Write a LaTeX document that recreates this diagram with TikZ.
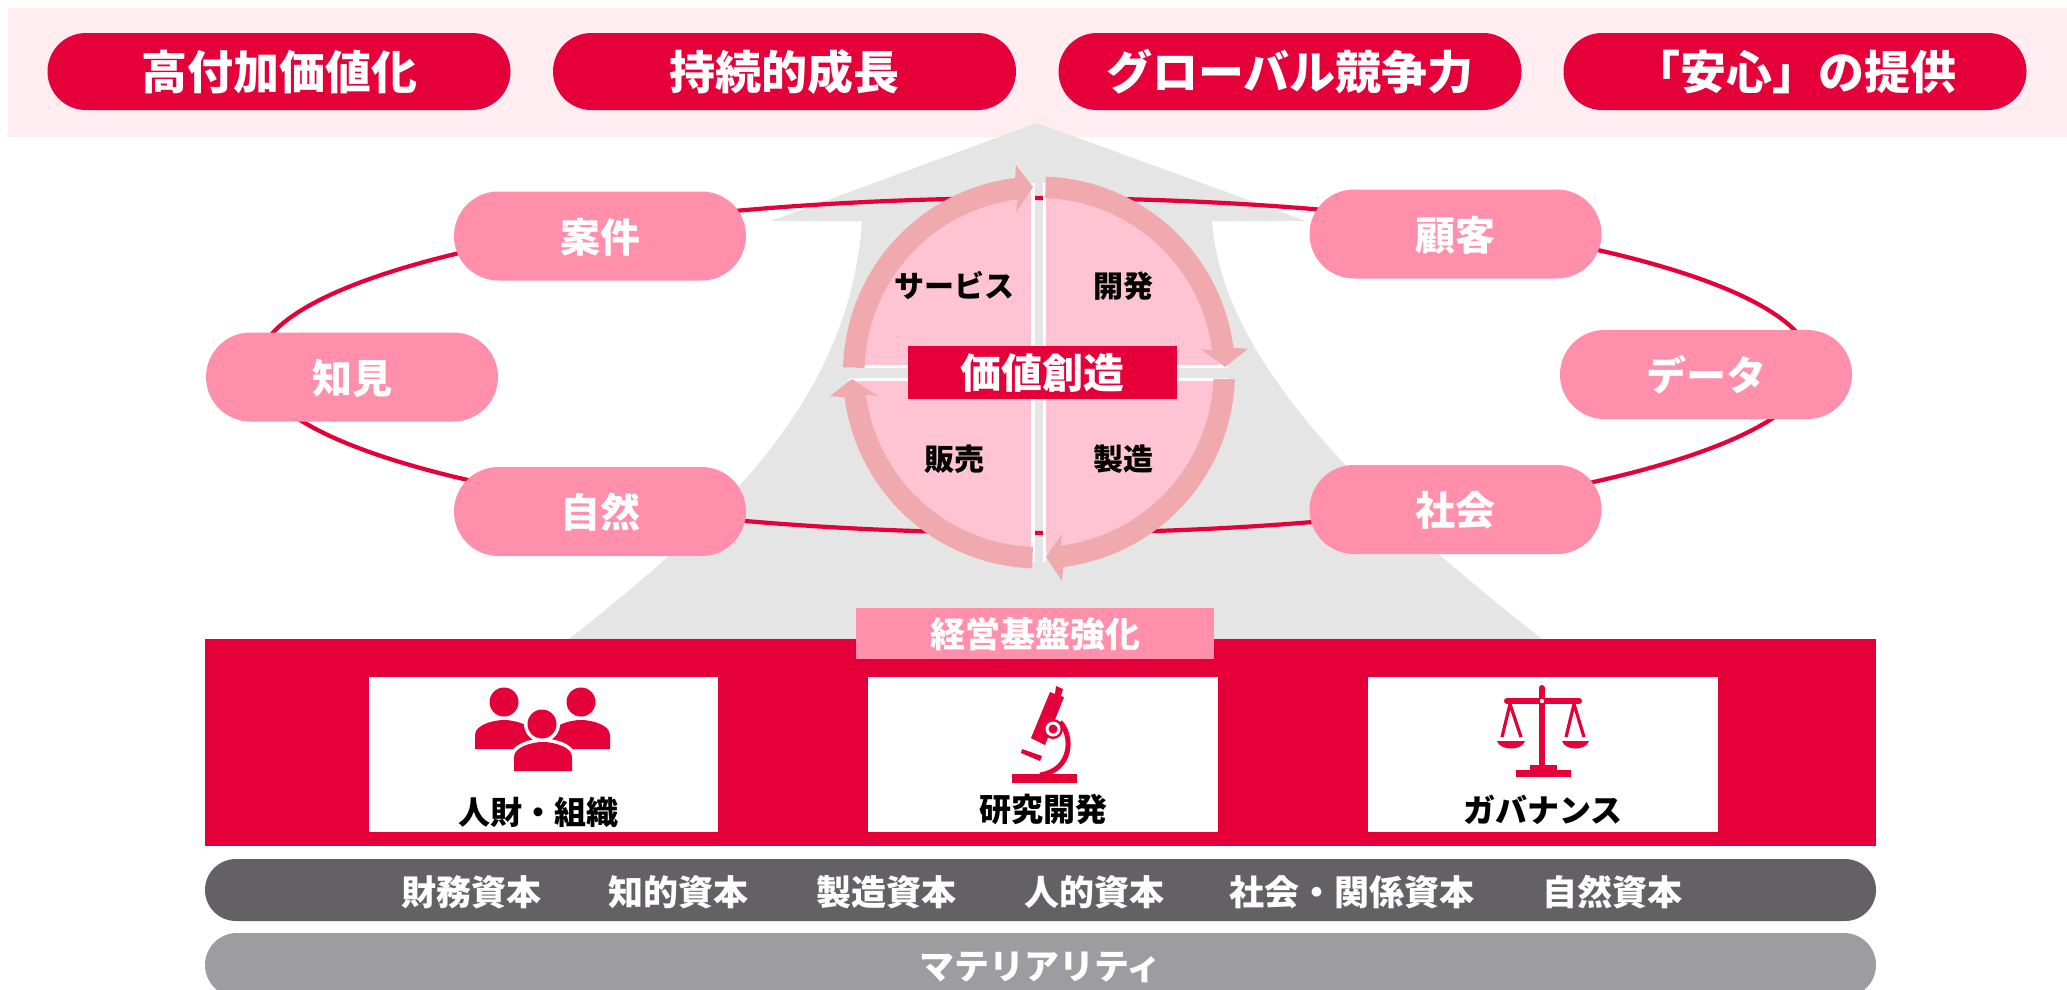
\documentclass[tikz,border=0pt]{standalone}
\usepackage{fontspec}
\usetikzlibrary{shapes.misc}
\setmainfont{Noto Sans CJK JP}
\definecolor{brandred}{HTML}{E60039}
\definecolor{bandpink}{HTML}{FFEDF2}
\definecolor{pillpink}{HTML}{FF8FAB}
\definecolor{quadpink}{HTML}{FFC4D3}
\definecolor{ringpink}{HTML}{F0A9AD}
\definecolor{hillgray}{HTML}{E5E5E5}
\definecolor{darkpill}{HTML}{636166}
\definecolor{lightpill}{HTML}{9D9DA1}
\tikzset{
  fz/.style={font=\fontsize{#1}{#1}\selectfont\bfseries, text height=#1*0.84pt, text depth=#1*0.04pt, inner sep=0pt},
  goalpill/.style={rounded rectangle, fill=brandred, text=white, fz=46, minimum width=463pt, minimum height=77pt},
  ringpill/.style={rounded rectangle, fill=pillpink, text=white, fz=40, minimum width=292pt, minimum height=89pt},
  quadlabel/.style={fz=30, text=black},
  whitebox/.style={fill=white, minimum width=349.5pt, minimum height=155pt, inner sep=0pt},
  boxlabel/.style={fz=32, text=black},
  capital/.style={fz=35, text=white},
  icon/.style={fill=brandred, draw=none},
  ringarc/.style={fill=ringpink, draw=none},
}
\begin{document}
\begin{tikzpicture}[x=1pt,y=-1pt]
\useasboundingbox (0,0) rectangle (2067,989);
\clip (0,0) rectangle (2067,989);
\fill[white] (0,0) rectangle (2067,989);
% top band
\fill[bandpink] (8,8) rectangle (2067,137);
\node[goalpill] (g1) at (279,71.5) {高付加価値化};
\node[goalpill] (g2) at (784.5,71.5) {持続的成長};
\node[goalpill] (g3) at (1290,71.5) {グローバル競争力};
\node[goalpill] (g4) at (1795,71.5) {「安心」の提供};
% gray hill
\fill[hillgray] (1037,123) -- (771,221) -- (862,221)
  .. controls (850,400) and (720,520) .. (569,639)
  -- (1542,639) .. controls (1390,520) and (1222,370) .. (1212,221)
  -- (1306,221) -- cycle;
% value ellipse
\draw[brandred, line width=4.2pt] (1035,365.5) ellipse [x radius=777, y radius=167.5];
% ring pills
\node[ringpill] (p1) at (600,236) {案件};
\node[ringpill] (p2) at (1455.5,234) {顧客};
\node[ringpill] (p3) at (352,377) {知見};
\node[ringpill] (p4) at (1706,374.5) {データ};
\node[ringpill] (p5) at (600,511.5) {自然};
\node[ringpill] (p6) at (1455.5,509.5) {社会};
% quadrants
\begin{scope}
  \clip (1039,372.5) circle [radius=180];
  \fill[quadpink] (840,170) rectangle (1031,365);
  \fill[quadpink] (1046,170) rectangle (1240,365);
  \fill[quadpink] (840,381) rectangle (1031,575);
  \fill[quadpink] (1046,381) rectangle (1240,575);
\end{scope}
% white separators
\fill[white] (1031,183) rectangle (1035,562);
\fill[white] (1043,183) rectangle (1046,562);
\fill[white] (849,365) rectangle (1031,368);
\fill[white] (849,378) rectangle (1031,381);
\fill[white] (1046,365) rectangle (1228,368);
\fill[white] (1046,378) rectangle (1228,381);
% ring arrows
\fill[ringarc] plot[domain=178.5:97,samples=40] ({1039+196*cos(\x)},{372.5-196*sin(\x)})
  -- (1016,165) -- (1033,187) -- (1016,212)
  -- plot[domain=97:178.5,samples=40] ({1039+174.5*cos(\x)},{372.5-174.5*sin(\x)}) -- cycle;
\fill[ringarc] plot[domain=88:7.3,samples=40] ({1039+196*cos(\x)},{372.5-196*sin(\x)})
  -- (1248,349) -- (1225,367) -- (1201,349)
  -- plot[domain=7.3:88,samples=40] ({1039+174.5*cos(\x)},{372.5-174.5*sin(\x)}) -- cycle;
\fill[ringarc] plot[domain=-2:-82.9,samples=40] ({1039+196*cos(\x)},{372.5-196*sin(\x)})
  -- (1062,581) -- (1046,557) -- (1062,534)
  -- plot[domain=-82.9:-2,samples=40] ({1039+174.5*cos(\x)},{372.5-174.5*sin(\x)}) -- cycle;
\fill[ringarc] plot[domain=268:187.3,samples=40] ({1039+196*cos(\x)},{372.5-196*sin(\x)})
  -- (830,396) -- (852,379) -- (878,396)
  -- plot[domain=187.3:268,samples=40] ({1039+174.5*cos(\x)},{372.5-174.5*sin(\x)}) -- cycle;
% quadrant labels
\node[quadlabel] (q1) at (954,285) {サービス};
\node[quadlabel] (q2) at (1123,285) {開発};
\node[quadlabel] (q3) at (954,458) {販売};
\node[quadlabel] (q4) at (1123,458) {製造};
\node[fill=brandred, text=white, fz=41, minimum width=269pt, minimum height=53pt] (vc) at (1042.5,372.5) {価値創造};
% base
\fill[brandred] (205,639) rectangle (1876,846);
\node[fill=pillpink, text=white, fz=35, minimum width=358pt, minimum height=51pt] (base) at (1035,633.5) {経営基盤強化};
\node[whitebox] (b1) at (543.5,754.5) {};
\node[whitebox] (b2) at (1043,754.5) {};
\node[whitebox] (b3) at (1543,754.5) {};
\node[boxlabel] (l1) at (538,812) {人財・組織};
\node[boxlabel] (l2) at (1043,809) {研究開発};
\node[boxlabel] (l3) at (1543,810) {ガバナンス};
% people icon
\fill[icon] (504,702) circle [radius=14.5];
\fill[icon] (581,702) circle [radius=14.5];
\fill[icon] (475,749) -- (475,735) .. controls (475,725) and (493,720) .. (504,720) .. controls (515,720) and (533,725) .. (533,735) -- (533,749) -- cycle;
\fill[icon] (552,749) -- (552,735) .. controls (552,725) and (570,720) .. (581,720) .. controls (592,720) and (610,725) .. (610,735) -- (610,749) -- cycle;
\path[draw=white, line width=7pt, fill=white] (514,771) -- (514,757) .. controls (514,747) and (532,742) .. (543,742) .. controls (554,742) and (572,747) .. (572,757) -- (572,771) -- cycle;
\draw[white, line width=7pt, fill=white] (542,724) circle [radius=14.5];
\fill[icon] (542,724) circle [radius=14.5];
\fill[icon] (514,771) -- (514,757) .. controls (514,747) and (532,742) .. (543,742) .. controls (554,742) and (572,747) .. (572,757) -- (572,771) -- cycle;
% microscope icon
\fill[icon] (1012,774) rectangle (1077,783);
\fill[icon] (1022,749) -- (1042,756) -- (1040,761) -- (1021,753) -- cycle;
\fill[icon] (1050,692) -- (1055,694) -- (1056,686) -- (1063,689) -- (1061,696) -- (1064,697) -- (1045,745) -- (1031,738) -- cycle;
\draw[brandred, line width=5pt] (1060,722) .. controls (1073,735) and (1073,770) .. (1040,775);
\fill[icon] (1053,729) circle [radius=10];
\fill[white] (1053,729) circle [radius=7.5];
\fill[icon] (1053,729) circle [radius=4.5];
% scales icon
\fill[icon] (1539,688) rectangle (1545,770);
\fill[icon] (1542,688) circle [radius=3];
\draw[brandred, line width=6pt, line cap=round] (1507,701) -- (1579,701);
\fill[white] (1542,701) circle [radius=2.2];
\draw[brandred, line width=3.2pt] (1502,737) -- (1510,704) -- (1521,737);
\draw[brandred, line width=3.2pt] (1566,737) -- (1574,704) -- (1584,737);
\fill[icon] (1497,741) -- (1525,741) .. controls (1522,751) and (1500,751) .. (1497,741) -- cycle;
\fill[icon] (1562,741) -- (1589,741) .. controls (1586,751) and (1565,751) .. (1562,741) -- cycle;
\fill[icon] (1530,765) rectangle (1557,771);
\fill[icon] (1516,770) rectangle (1571,777);
% capital pill
\node[rounded rectangle, fill=darkpill, minimum width=1671pt, minimum height=62pt, inner sep=0pt] (cap) at (1040.5,890) {};
\node[capital] (c1) at (471,891) {財務資本};
\node[capital] (c2) at (678,891) {知的資本};
\node[capital] (c3) at (886,891) {製造資本};
\node[capital] (c4) at (1094,891) {人的資本};
\node[capital] (c5) at (1352,891) {社会・関係資本};
\node[capital] (c6) at (1612,891) {自然資本};
% materiality
\node[rounded rectangle, fill=lightpill, text=white, fz=35, minimum width=1671pt, minimum height=64pt] (mat) at (1040.5,965) {マテリアリティ};
\end{tikzpicture}
\end{document}
